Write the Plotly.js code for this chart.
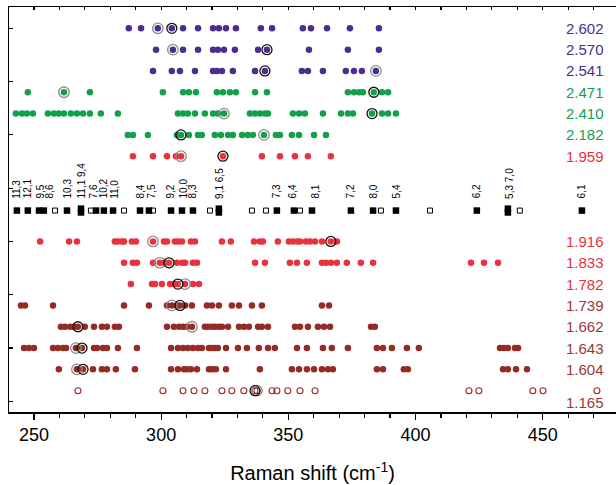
<!DOCTYPE html>
<html>
<head>
<meta charset="utf-8">
<script src="https://cdn.plot.ly/plotly-3.0.1.min.js"></script>
<style>html,body{margin:0;padding:0;background:#fff;}#chart{width:616px;height:485px;}</style>
</head>
<body>
<div id="chart"></div>
<script>
// ---- data (Raman shift, cm^-1) ----
const r2602 = [287.3, 292.1, 298.7, 304.2, 308.6, 314.5, 320.4, 322.7, 325.5, 329.4, 339.2, 343.6, 355.7, 358.9, 365.2, 374.2, 385.6];
const r2570 = [298.0, 304.6, 308.6, 314.5, 320.4, 322.3, 324.7, 329.0, 338.1, 341.6, 358.1, 373.4, 385.6];
const r2541 = [296.8, 304.2, 307.4, 313.3, 320.4, 321.9, 323.9, 328.2, 336.9, 340.8, 355.3, 357.7, 363.6, 372.6, 375.8, 378.9, 384.4];
const r2471 = [247.6, 261.8, 272.0, 300.7, 308.6, 310.9, 313.7, 321.9, 324.3, 327.0, 329.4, 336.9, 341.6, 373.4, 375.8, 377.8, 379.3, 383.6, 386.8, 389.2];
const r2410 = [242.9, 245.3, 247.2, 249.6, 255.5, 257.9, 259.8, 261.8, 264.5, 266.9, 269.3, 272.0, 276.3, 283.0, 306.6, 308.6, 310.5, 313.3, 317.2, 320.4, 322.3, 324.7, 334.9, 336.9, 338.8, 340.8, 342.0, 351.8, 354.2, 356.5, 363.6, 370.7, 373.4, 375.4, 382.9, 386.8, 389.2, 392.3];
const r2182 = [286.9, 288.9, 294.8, 306.2, 307.8, 310.9, 314.5, 316.0, 321.1, 323.5, 326.3, 328.2, 331.8, 334.1, 336.1, 340.4, 345.1, 346.7, 351.4, 354.2, 360.1, 364.8];
const r1959 = [288.9, 296.8, 302.3, 305.8, 307.8, 324.3, 339.6, 346.7, 352.6, 357.7, 366.7];
const r1916 = [252.4, 263.8, 266.9, 281.8, 283.0, 284.6, 285.4, 288.5, 290.1, 296.8, 301.1, 302.3, 305.4, 306.6, 308.2, 311.7, 313.3, 323.9, 327.4, 336.5, 338.8, 340.0, 345.9, 350.2, 351.8, 353.4, 354.6, 356.9, 358.5, 360.5, 363.2, 366.7, 369.1];
const r1833 = [285.4, 288.9, 290.5, 296.8, 299.5, 301.1, 303.1, 306.2, 308.2, 309.4, 312.5, 314.1, 336.9, 340.8, 350.6, 353.4, 357.3, 363.2, 364.8, 366.7, 369.1, 373.0, 378.5, 383.3, 421.8, 426.9, 432.4];
const r1782 = [288.1, 296.4, 297.6, 300.3, 303.5, 305.4, 306.6, 309.4, 312.5, 314.9];
const r1739 = [244.9, 246.5, 257.5, 285.4, 295.2, 302.3, 304.2, 306.2, 307.4, 309.4, 312.1, 318.0, 320.0, 322.7, 327.8, 330.6, 335.7, 339.6, 363.2, 366.0];
const r1662 = [260.6, 262.2, 264.2, 265.7, 267.3, 270.0, 273.6, 276.7, 278.7, 281.8, 283.4, 302.3, 305.0, 307.0, 308.6, 310.1, 312.1, 317.2, 318.4, 320.0, 321.1, 322.7, 323.9, 326.3, 330.6, 332.5, 334.5, 338.1, 339.6, 342.0, 352.6, 354.6, 357.7, 361.6, 364.0, 366.4, 382.5, 384.0];
const r1643 = [246.1, 248.0, 250.0, 257.5, 259.4, 261.4, 262.6, 266.5, 268.9, 273.6, 274.8, 277.1, 278.7, 283.0, 290.5, 303.9, 306.6, 308.6, 310.5, 312.5, 314.5, 316.0, 318.8, 320.0, 321.1, 322.3, 325.5, 330.2, 333.7, 338.4, 342.0, 344.7, 353.4, 357.3, 363.6, 367.1, 373.4, 384.8, 387.2, 390.7, 396.6, 401.3, 433.2, 434.7, 436.3, 439.1, 440.3];
const r1604 = [259.8, 266.9, 269.3, 273.2, 276.7, 278.7, 282.2, 289.7, 303.9, 306.6, 309.0, 310.1, 311.7, 314.1, 318.8, 320.0, 321.5, 325.5, 338.8, 351.4, 354.2, 357.3, 360.1, 363.2, 365.6, 367.5, 384.8, 387.2, 395.4, 397.0, 434.4, 436.3, 439.5, 443.8];
const r1165 = [267.3, 300.7, 308.6, 312.9, 317.2, 323.9, 327.8, 332.5, 336.9, 337.7, 343.6, 345.5, 349.8, 354.6, 360.5, 421.0, 424.9, 446.1, 450.1, 471.3];

const rowLabels = ['2.602', '2.570', '2.541', '2.471', '2.410', '2.182', '1.959', '1.916', '1.833', '1.782', '1.739', '1.662', '1.643', '1.604', '1.165'];
const rowValues = [r2602, r2570, r2541, r2471, r2410, r2182, r1959, r1916, r1833, r1782, r1739, r1662, r1643, r1604, r1165];
const rowIndex  = [0, 1, 2, 3, 4, 5, 6, 10, 11, 12, 13, 14, 15, 16, 17];
const rowGroup  = ['p', 'p', 'p', 'g', 'g', 'g', 'r', 'r', 'r', 'r', 'd', 'd', 'd', 'd', 'o'];

// highlighted points (black and grey rings)
const blackRingX   = [304.2, 341.6, 340.8, 383.6, 382.9, 307.8, 324.3, 366.7, 303.1, 306.6, 307.4, 267.3, 268.9, 269.3, 336.9];
const blackRingRow = [0, 1, 2, 3, 4, 5, 6, 10, 11, 12, 13, 14, 15, 16, 17];
const greyRingX    = [298.7, 304.6, 384.4, 261.8, 324.7, 340.4, 307.8, 296.8, 299.5, 309.4, 304.2, 312.1, 266.5, 266.9, 337.7];
const greyRingRow  = [0, 1, 2, 3, 4, 5, 6, 10, 11, 12, 13, 14, 15, 16, 17];

// reference bands (squares) and their labels
const filledX     = [243.3, 247.6, 252.0, 253.9, 263.0, 268.5, 274.4, 277.5, 281.1, 291.7, 295.2, 303.9, 308.2, 312.5, 322.7, 345.5, 352.2, 359.3, 374.6, 383.3, 392.3, 424.1, 436.3, 465.4];
const filledLabel = ['11,3', '12,1', '9,5', '8,6', '10,3', '11,1 9,4', '7,6', '10,2', '11,0', '8,4', '7,5', '9,2', '10,0', '8,3', '9,1 6,5', '7,3', '6,4', '8,1', '7,2', '8,0', '5,4', '6,2', '5,3 7,0', '6,1'];
const labelX      = [243.3, 247.6, 252.4, 256.3, 263.0, 268.5, 273.6, 277.5, 281.8, 291.7, 296.4, 303.5, 308.6, 312.5, 323.1, 345.5, 351.8, 360.5, 374.6, 383.3, 392.7, 424.1, 437.1, 465.4];
const openSqX     = [258.3, 272.4, 285.4, 296.8, 319.2, 335.7, 341.2, 354.6, 386.4, 405.7, 441.0];

// ---- styling ----
const colors = {p: '#4b2d8f', g: '#13a04a', r: '#e8323c', d: '#952b25', o: '#952b25'};
const labelColors = {p: '#4b2d8f', g: '#13a04a', r: '#e8323c', d: '#9a3a33', o: '#9a3a33'};
const SQ_ROW = 8.55;

const traces = [];
rowValues.forEach((xs, i) => {
  const g = rowGroup[i];
  const open = g === 'o';
  traces.push({
    type: 'scatter', mode: 'markers', x: xs, y: xs.map(() => rowIndex[i]),
    marker: open
      ? {symbol: 'circle-open', size: 6, color: colors[g], line: {color: colors[g], width: 1.1}}
      : {symbol: 'circle', size: 6.5, color: colors[g], line: {width: 0}},
    hoverinfo: 'skip', cliponaxis: false
  });
});
traces.push({
  type: 'scatter', mode: 'markers', x: greyRingX, y: greyRingRow,
  marker: {symbol: 'circle-open', size: 10.5, color: '#8c8c8c', line: {color: '#8c8c8c', width: 1.3}},
  hoverinfo: 'skip'
});
traces.push({
  type: 'scatter', mode: 'markers', x: blackRingX, y: blackRingRow,
  marker: {symbol: 'circle-open', size: 10, color: '#111', line: {color: '#111', width: 1.3}},
  hoverinfo: 'skip'
});
// squares
const sqX = [], sqY = [];
filledX.forEach((x, i) => {
  if (filledLabel[i].indexOf(' ') >= 0) { sqX.push(x, x); sqY.push(SQ_ROW - 0.09, SQ_ROW + 0.09); }
  else { sqX.push(x); sqY.push(SQ_ROW); }
});
traces.push({
  type: 'scatter', mode: 'markers', x: sqX, y: sqY,
  marker: {symbol: 'square', size: 6.5, color: '#000', line: {width: 0}}, hoverinfo: 'skip'
});
traces.push({
  type: 'scatter', mode: 'markers', x: openSqX, y: openSqX.map(() => SQ_ROW),
  marker: {symbol: 'square-open', size: 5, color: '#000', line: {color: '#000', width: 1}}, hoverinfo: 'skip'
});
// invisible trace on top axis to draw the top ticks
traces.push({type: 'scatter', mode: 'markers', x: [300], y: [0], xaxis: 'x2', marker: {opacity: 0}, hoverinfo: 'skip'});

const annotations = [];
filledLabel.forEach((t, i) => {
  annotations.push({
    x: labelX[i], y: 8.03, xref: 'x', yref: 'y', text: t, showarrow: false,
    textangle: -90, xanchor: 'center', yanchor: 'bottom',
    font: {family: 'Arial, Liberation Sans, sans-serif', size: 10, color: '#000'}, borderpad: 0
  });
});
rowLabels.forEach((t, i) => {
  annotations.push({
    x: 0.982, xref: 'paper', y: rowIndex[i] + (rowGroup[i] === 'o' ? 0.55 : 0), yref: 'y',
    text: t, showarrow: false, xanchor: 'right', yanchor: 'middle',
    font: {family: 'Arial, Liberation Sans, sans-serif', size: 15, color: labelColors[rowGroup[i]]}, borderpad: 0
  });
});

const xRange = [240.2, 478.8];
const layout = {
  width: 616, height: 485,
  margin: {l: 9, r: 0, t: 7, b: 73},
  paper_bgcolor: '#fff', plot_bgcolor: '#fff',
  showlegend: false, hovermode: false,
  font: {family: 'Arial, Liberation Sans, sans-serif', color: '#000'},
  xaxis: {
    range: xRange, showgrid: false, zeroline: false,
    showline: true, linecolor: '#000', linewidth: 1.5,
    ticks: 'outside', ticklen: 6, tickwidth: 1.2, tickcolor: '#000',
    tickvals: [250, 300, 350, 400, 450],
    minor: {tickvals: [260, 270, 280, 290, 310, 320, 330, 340, 360, 370, 380, 390, 410, 420, 430, 440, 460, 470], ticks: 'outside', ticklen: 4, tickwidth: 1.2, tickcolor: '#000'},
    tickfont: {size: 18, color: '#000'},
    title: {text: 'Raman shift (cm<sup>-1</sup>)', font: {size: 20, color: '#000'}, standoff: 22}
  },
  xaxis2: {
    overlaying: 'x', side: 'top', range: xRange, showgrid: false, zeroline: false,
    showline: true, linecolor: '#000', linewidth: 1.5,
    ticks: 'inside', ticklen: 3, tickwidth: 1.2, tickcolor: '#000',
    tickvals: [250, 260, 270, 280, 290, 300, 310, 320, 330, 340, 350, 360, 370, 380, 390, 400, 410, 420, 430, 440, 450, 460, 470],
    showticklabels: false
  },
  yaxis: {
    range: [18, -1], showgrid: false, zeroline: false,
    showline: true, linecolor: '#000', linewidth: 1.5,
    ticks: 'inside', ticklen: 4, tickwidth: 1.2, tickcolor: '#000',
    tickvals: [0, 2.5, 5, 7.5, 10, 12.5, 15, 17.5], showticklabels: false
  },
  annotations: annotations
};

Plotly.newPlot('chart', traces, layout, {staticPlot: true, displayModeBar: false});
</script>
</body>
</html>
